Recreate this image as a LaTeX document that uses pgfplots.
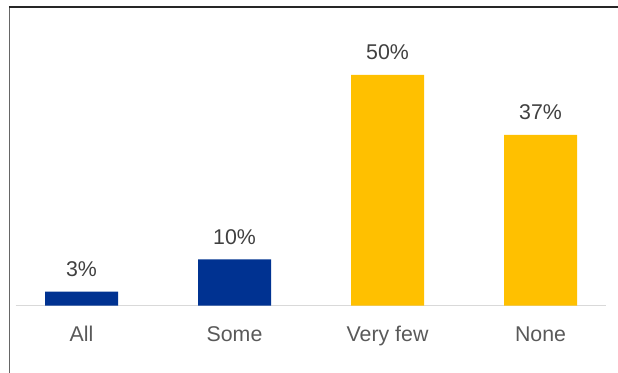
\documentclass[border=0pt]{standalone}
\usepackage{pgfplots}
\pgfplotsset{compat=1.18}
\usepackage{fontspec}
\setmainfont{Liberation Sans}
\definecolor{kblue}{RGB}{0,50,145}
\definecolor{kyellow}{RGB}{255,192,0}
\definecolor{lbl}{RGB}{64,64,64}
\definecolor{tck}{RGB}{89,89,89}
\definecolor{baseln}{RGB}{217,217,217}
\begin{document}
\begin{tikzpicture}[x=0.75pt,y=0.75pt]
\useasboundingbox (0,0) rectangle (618,373);
\draw[line width=1.2pt, color=black!60] (9.5,0) -- (9.5,366.5);
\draw[line width=0.9pt, color=black!85] (8.9,366) -- (618,366);
\begin{axis}[
  at={(11.8pt,50.6pt)}, anchor=south west,
  scale only axis, width=442.7pt, height=207.5pt,
  xmin=-0.430, xmax=3.428, ymin=0, ymax=60,
  hide y axis,
  axis x line=bottom,
  x axis line style={-, color=baseln, line width=0.9pt},
  xtick={0,1,2,3},
  xticklabels={All,Some,Very few,None},
  major tick length=0pt,
  xticklabel style={font=\fontsize{16pt}{19pt}\selectfont, text=tck, anchor=base, inner sep=0pt, yshift=-27pt},
  ybar, bar width=54.75pt, bar shift=0pt,
  nodes near coords={\pgfmathprintnumber{\pgfplotspointmeta}\%},
  nodes near coords style={font=\fontsize{16pt}{19pt}\selectfont, text=lbl, anchor=base, inner sep=0pt, yshift=11.5pt},
  /pgf/number format/assume math mode=true,
  clip=false,
]
\addplot[fill=kblue, draw=none] coordinates {(0,3) (1,10)};
\addplot[fill=kyellow, draw=none] coordinates {(2,50) (3,37)};
\end{axis}
\end{tikzpicture}
\end{document}
